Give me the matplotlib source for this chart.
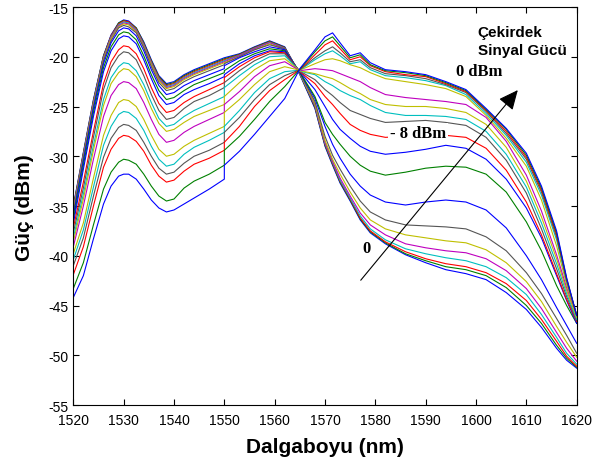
import matplotlib
matplotlib.use("Agg")
import matplotlib.pyplot as plt

plt.rcParams["font.family"] = ["Liberation Sans", "DejaVu Sans"]
plt.rcParams["axes.unicode_minus"] = False

# Wavelength grids (nm): first scan segment and second scan segment
WL_LEFT = [1520, 1522, 1524, 1526, 1527.5, 1529, 1530, 1531, 1532.5, 1534, 1535.5,
           1537, 1538.5, 1540, 1542, 1544, 1547, 1550]
WL_RIGHT = [1550, 1553, 1556, 1559, 1562, 1565, 1568, 1570, 1571.5, 1573, 1575, 1577,
            1579, 1582, 1586, 1590, 1594, 1598, 1602, 1606, 1610, 1613, 1616, 1618, 1620]

# Output power (dBm), one trace per core signal power, lowest (p00) to highest (p20)
left_p00 = [-35.0, -29.6, -24.3, -19.9, -17.8, -16.6, -16.3, -16.4, -17.1, -18.5, -20.3, -21.9, -22.7, -22.5, -21.8, -21.3, -20.7, -20.1]
left_p01 = [-35.1, -29.7, -24.4, -19.9, -17.9, -16.6, -16.35, -16.5, -17.1, -18.6, -20.4, -22.0, -22.8, -22.6, -21.9, -21.4, -20.8, -20.2]
left_p02 = [-35.2, -29.8, -24.5, -20.0, -17.9, -16.7, -16.4, -16.5, -17.2, -18.7, -20.5, -22.1, -22.9, -22.7, -22.0, -21.5, -20.9, -20.3]
left_p03 = [-35.3, -29.9, -24.6, -20.1, -18.0, -16.8, -16.5, -16.6, -17.3, -18.8, -20.6, -22.2, -23.0, -22.8, -22.1, -21.6, -21.0, -20.4]
left_p04 = [-35.4, -30.0, -24.7, -20.2, -18.1, -16.9, -16.6, -16.7, -17.4, -18.9, -20.7, -22.3, -23.1, -22.9, -22.2, -21.7, -21.1, -20.5]
left_p05 = [-35.5, -30.1, -24.8, -20.3, -18.2, -17.0, -16.7, -16.8, -17.5, -19.0, -20.8, -22.4, -23.2, -23.0, -22.3, -21.8, -21.2, -20.6]
left_p06 = [-35.7, -30.2, -25.0, -20.4, -18.4, -17.1, -16.85, -17.0, -17.6, -19.1, -21.0, -22.6, -23.4, -23.2, -22.5, -22.0, -21.4, -20.8]
left_p07 = [-36.0, -30.5, -25.2, -20.7, -18.6, -17.4, -17.1, -17.2, -17.9, -19.4, -21.3, -22.9, -23.8, -23.6, -22.9, -22.4, -21.8, -21.2]
left_p08 = [-36.4, -30.9, -25.6, -21.1, -19.0, -17.8, -17.5, -17.6, -18.3, -19.9, -21.8, -23.4, -24.3, -24.1, -23.4, -22.8, -22.2, -21.6]
left_p09 = [-36.8, -31.3, -26.0, -21.5, -19.4, -18.2, -17.9, -18.0, -18.7, -20.3, -22.2, -23.9, -24.8, -24.6, -23.8, -23.3, -22.7, -22.0]
left_p10 = [-37.2, -32.6, -27.5, -22.7, -20.5, -19.3, -18.9, -19.0, -19.7, -21.2, -23.1, -24.7, -25.6, -25.4, -24.6, -24.0, -23.3, -22.6]
left_p11 = [-37.7, -33.2, -28.1, -23.3, -21.1, -19.9, -19.5, -19.6, -20.3, -21.9, -23.8, -25.4, -26.3, -26.1, -25.2, -24.5, -23.9, -23.1]
left_p12 = [-38.2, -33.8, -28.9, -24.3, -22.1, -21.0, -20.6, -20.7, -21.4, -22.8, -24.6, -26.2, -27.0, -26.8, -26.0, -25.4, -24.7, -24.0]
left_p13 = [-38.6, -34.3, -29.4, -24.9, -22.7, -21.6, -21.2, -21.3, -22.0, -23.4, -25.2, -26.7, -27.5, -27.3, -26.6, -26.0, -25.4, -24.8]
left_p14 = [-39.1, -35.0, -30.3, -26.0, -23.9, -22.8, -22.5, -22.6, -23.2, -24.6, -26.3, -27.8, -28.6, -28.4, -27.6, -27.0, -26.3, -25.6]
left_p15 = [-39.8, -36.7, -32.2, -27.9, -25.9, -24.6, -24.3, -24.4, -25.0, -26.3, -27.9, -29.3, -30.0, -29.8, -29.0, -28.4, -27.7, -27.0]
left_p16 = [-40.4, -37.4, -33.1, -28.9, -27.0, -25.8, -25.5, -25.6, -26.2, -27.4, -29.0, -30.3, -31.0, -30.8, -29.8, -29.1, -28.4, -27.6]
left_p17 = [-41.0, -38.2, -34.0, -30.1, -28.2, -27.1, -26.8, -26.9, -27.4, -28.6, -30.0, -31.2, -31.8, -31.6, -30.7, -30.0, -29.4, -28.6]
left_p18 = [-41.9, -39.1, -35.0, -31.1, -29.3, -28.2, -27.9, -28.0, -28.5, -29.5, -30.9, -32.0, -32.6, -32.4, -31.5, -30.8, -30.2, -29.4]
left_p19 = [-43.3, -40.7, -36.9, -33.3, -31.6, -30.6, -30.3, -30.4, -30.8, -31.8, -33.0, -34.0, -34.5, -34.3, -33.2, -32.5, -31.8, -30.9]
left_p20 = [-44.2, -42.0, -38.3, -34.8, -33.0, -32.0, -31.8, -31.8, -32.3, -33.3, -34.4, -35.2, -35.6, -35.4, -34.8, -34.2, -33.3, -32.3]

right_p00 = [-20.1, -19.7, -19.0, -18.4, -19.0, -21.8, -25.2, -29.0, -30.9, -32.7, -34.5, -36.4, -37.7, -38.8, -39.9, -40.7, -41.4, -41.8, -42.4, -43.7, -45.4, -47.2, -49.3, -50.5, -51.3]
right_p01 = [-20.2, -19.75, -19.05, -18.45, -19.05, -21.75, -25.1, -28.9, -30.8, -32.6, -34.4, -36.3, -37.6, -38.7, -39.8, -40.5, -41.1, -41.4, -42.0, -43.2, -45.0, -46.8, -49.0, -50.3, -51.2]
right_p02 = [-20.3, -19.8, -19.1, -18.5, -19.1, -21.7, -25.0, -28.8, -30.7, -32.5, -34.3, -36.2, -37.5, -38.6, -39.6, -40.3, -40.8, -41.1, -41.7, -42.8, -44.5, -46.4, -48.6, -50.1, -51.1]
right_p03 = [-20.4, -19.85, -19.15, -18.55, -19.15, -21.7, -24.9, -28.7, -30.6, -32.4, -34.2, -36.0, -37.3, -38.4, -39.3, -39.8, -40.2, -40.5, -41.1, -42.2, -43.9, -45.9, -48.2, -49.8, -50.9]
right_p04 = [-20.5, -19.9, -19.2, -18.6, -19.2, -21.65, -24.8, -28.6, -30.5, -32.2, -34.0, -35.7, -36.9, -37.9, -38.8, -39.2, -39.5, -39.7, -40.3, -41.5, -43.3, -45.3, -47.7, -49.3, -50.6]
right_p05 = [-20.6, -20.0, -19.3, -18.7, -19.3, -21.65, -24.7, -28.4, -30.3, -31.8, -33.6, -35.2, -36.4, -37.3, -37.9, -38.2, -38.5, -38.7, -39.4, -40.7, -42.6, -44.6, -47.1, -48.7, -50.2]
right_p06 = [-20.7, -20.0, -19.3, -18.8, -19.2, -21.6, -24.5, -28.0, -29.9, -31.3, -33.0, -34.5, -35.6, -36.4, -36.9, -37.0, -37.1, -37.3, -38.1, -39.5, -41.7, -43.8, -46.3, -48.0, -49.8]
right_p07 = [-20.9, -20.1, -19.5, -19.0, -19.3, -21.6, -24.2, -27.0, -28.8, -30.2, -31.8, -33.0, -33.9, -34.6, -34.9, -34.6, -34.4, -34.6, -35.4, -37.2, -40.0, -42.4, -45.2, -47.0, -48.8]
right_p08 = [-21.4, -20.4, -19.7, -19.2, -19.4, -21.55, -24.0, -26.6, -27.8, -28.8, -30.0, -30.9, -31.5, -31.9, -31.6, -31.2, -31.0, -31.1, -31.8, -33.6, -36.6, -39.5, -43.0, -45.0, -46.8]
right_p09 = [-21.8, -20.7, -19.9, -19.4, -19.5, -21.5, -23.3, -25.0, -26.3, -27.3, -28.2, -29.0, -29.5, -29.8, -29.6, -29.3, -28.9, -29.2, -30.3, -32.3, -35.2, -38.2, -42.0, -44.5, -46.8]
right_p10 = [-22.1, -21.0, -20.1, -19.5, -19.6, -21.5, -22.7, -24.0, -24.8, -25.7, -26.8, -27.4, -27.8, -28.1, -28.0, -27.9, -27.9, -28.1, -29.2, -31.4, -34.6, -37.9, -41.8, -44.4, -46.6]
right_p11 = [-22.6, -21.4, -20.4, -19.7, -19.7, -21.45, -22.3, -23.3, -23.9, -24.6, -25.4, -25.8, -26.2, -26.6, -26.5, -26.4, -26.6, -26.9, -28.1, -30.4, -33.7, -37.3, -41.3, -44.1, -46.5]
right_p12 = [-23.1, -21.9, -20.8, -20.0, -19.9, -21.45, -21.8, -22.5, -22.9, -23.4, -23.9, -24.3, -24.9, -25.6, -25.9, -25.9, -26.0, -26.3, -27.5, -29.8, -33.1, -36.7, -40.8, -43.8, -46.4]
right_p13 = [-24.0, -22.6, -21.3, -20.4, -20.2, -21.4, -21.7, -22.0, -22.2, -22.6, -23.2, -23.7, -24.3, -24.8, -25.0, -25.0, -25.2, -25.6, -26.8, -29.1, -32.5, -36.1, -40.3, -43.5, -46.2]
right_p14 = [-24.8, -23.5, -22.0, -20.9, -20.5, -21.4, -21.2, -21.3, -21.4, -21.7, -22.1, -22.5, -23.1, -23.8, -24.1, -24.3, -24.5, -24.8, -26.1, -28.5, -31.9, -35.5, -39.9, -43.2, -46.0]
right_p15 = [-25.6, -24.3, -22.8, -21.5, -21.0, -21.35, -20.7, -20.3, -20.2, -20.4, -20.8, -21.1, -21.6, -22.2, -22.5, -22.8, -23.2, -24.0, -25.9, -28.2, -31.0, -34.4, -39.0, -42.9, -46.1]
right_p16 = [-27.0, -25.4, -23.6, -22.2, -21.5, -21.35, -20.3, -19.7, -19.4, -19.9, -20.7, -20.5, -21.3, -21.9, -22.1, -22.4, -22.9, -23.8, -25.7, -27.9, -30.6, -33.9, -38.4, -42.6, -46.0]
right_p17 = [-27.6, -26.1, -24.3, -22.8, -21.9, -21.3, -20.1, -19.4, -19.0, -19.6, -20.5, -20.3, -21.1, -21.7, -21.9, -22.2, -22.8, -23.6, -25.5, -27.7, -30.3, -33.6, -38.1, -42.5, -46.0]
right_p18 = [-28.6, -27.0, -25.0, -23.4, -22.3, -21.3, -19.8, -18.8, -18.4, -19.2, -20.3, -20.0, -20.9, -21.5, -21.8, -22.0, -22.7, -23.5, -25.4, -27.5, -30.1, -33.4, -37.9, -42.4, -46.0]
right_p19 = [-29.4, -28.0, -26.3, -24.5, -23.0, -21.25, -19.5, -18.4, -18.0, -18.9, -20.1, -19.8, -20.8, -21.4, -21.6, -21.9, -22.6, -23.4, -25.3, -27.3, -29.9, -33.2, -37.7, -42.3, -46.0]
right_p20 = [-30.9, -29.5, -27.8, -26.0, -24.2, -21.2, -19.3, -18.0, -17.6, -18.6, -19.9, -19.6, -20.6, -21.3, -21.5, -21.8, -22.5, -23.3, -25.2, -27.2, -29.7, -33.0, -37.5, -42.2, -46.0]

BLUE, GREEN, RED = "#0000ff", "#008000", "#ff0000"
CYAN, MAGENTA, YELLOW, GRAY = "#00bfbf", "#bf00bf", "#bfbf00", "#555555"
TRACE_COLORS = [BLUE, GREEN, RED, CYAN, MAGENTA, YELLOW, GRAY,
                BLUE, GREEN, BLUE, RED, GRAY, CYAN, YELLOW,
                MAGENTA, YELLOW, CYAN, GRAY, RED, GREEN, BLUE]

LEFT_TRACES = [left_p00, left_p01, left_p02, left_p03, left_p04, left_p05, left_p06,
               left_p07, left_p08, left_p09, left_p10, left_p11, left_p12, left_p13,
               left_p14, left_p15, left_p16, left_p17, left_p18, left_p19, left_p20]
RIGHT_TRACES = [right_p00, right_p01, right_p02, right_p03, right_p04, right_p05, right_p06,
                right_p07, right_p08, right_p09, right_p10, right_p11, right_p12, right_p13,
                right_p14, right_p15, right_p16, right_p17, right_p18, right_p19, right_p20]

X_TICKS = list(range(1520, 1621, 10))
Y_TICKS = list(range(-55, -14, 5))

fig = plt.figure(figsize=(6.03, 4.64), dpi=100)
ax = fig.add_axes([73.3 / 603, 58 / 464, 503.4 / 603, 398 / 464])

for lft, rgt, col in zip(LEFT_TRACES, RIGHT_TRACES, TRACE_COLORS):
    ax.plot(WL_LEFT + WL_RIGHT, lft + rgt, color=col, lw=0.8, solid_joinstyle="round")

ax.set_xlim(1520, 1620)
ax.set_ylim(-55, -15)
ax.set_xticks(X_TICKS)
ax.set_yticks(Y_TICKS)
ax.tick_params(direction="in", length=4.5, width=0.8, top=True, right=True,
               labelsize=10, pad=3.5, colors="black")
ax.tick_params(axis="x", pad=5.5)
for sp in ax.spines.values():
    sp.set_linewidth(0.8)

fig.text(325 / 603, 11 / 464, "Dalgaboyu (nm)", ha="center", va="baseline",
         fontsize=15, fontweight="bold")
fig.text(24 / 603, 1 - 208 / 464, "Güç (dBm)", ha="center", va="center",
         rotation=90, fontsize=15, fontweight="bold")

ax.text(1600.3, -17.92, "Çekirdek", fontsize=11, fontweight="bold", ha="left", va="baseline")
ax.text(1600.3, -19.73, "Sinyal Gücü", fontsize=11, fontweight="bold", ha="left", va="baseline")

serif = ["Liberation Serif", "DejaVu Serif"]
ax.text(1596.0, -21.84, "0 dBm", fontsize=12, fontweight="bold", family=serif,
        ha="left", va="baseline")
ax.text(1582.9, -28.08, "- 8 dBm", fontsize=12, fontweight="bold", family=serif,
        ha="left", va="baseline",
        bbox=dict(facecolor="white", edgecolor="none", pad=1.5))
ax.text(1577.5, -39.65, "0", fontsize=12, fontweight="bold", family=serif,
        ha="left", va="baseline")

ax.annotate("", xy=(1608.3, -23.35), xytext=(1577.1, -42.46),
            arrowprops=dict(arrowstyle="-|>,head_length=1.2,head_width=0.55",
                            color="black", lw=0.8, shrinkA=0, shrinkB=0,
                            mutation_scale=10))

fig.savefig("out.png", dpi=100, facecolor="white")
